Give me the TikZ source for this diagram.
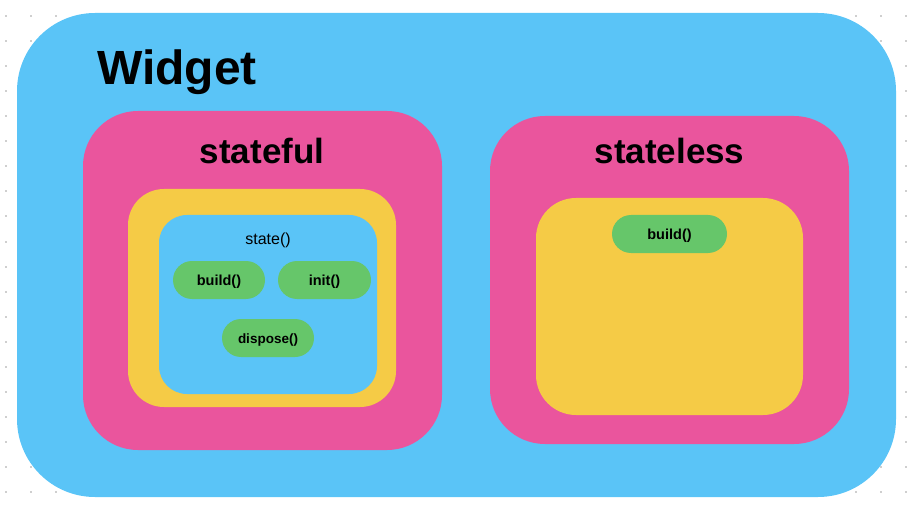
\documentclass[tikz,border=0pt]{standalone}
\usepackage{xcolor}
\usepackage{fontspec}
\setmainfont{Liberation Sans}
\usepackage{tikz}
\definecolor{wblue}{HTML}{5AC4F7}
\definecolor{wpink}{HTML}{EA559D}
\definecolor{wyellow}{HTML}{F5CB46}
\definecolor{wgreen}{HTML}{66C66A}
\definecolor{wdot}{HTML}{CFCFCF}

\begin{document}
\begin{tikzpicture}[x=1pt, y=-1pt,
  panel/.style={fill=#1, inner sep=0pt, outer sep=0pt},
  pill/.style={fill=wgreen, rounded corners=19pt, inner sep=0pt, minimum height=38pt,
    text height=12.5pt, text depth=1pt,
    font=\fontsize{14.5}{16}\selectfont\bfseries},
  heading/.style={anchor=base, inner sep=0pt, font=\fontsize{35}{40}\selectfont\bfseries}]
\useasboundingbox (0,0) rectangle (910,505);
\foreach \x in {6,31,...,906}
  \foreach \y in {16.5,41.5,...,492}
    \fill [wdot] (\x-1,\y-1) rectangle (\x+1,\y+1);
\node (widget) [panel=wblue, rounded corners=78pt, minimum width=879pt, minimum height=484pt] at (456.5,255) {};
\node (widgetlabel) [anchor=base west, inner sep=0pt, font=\fontsize{48}{52}\selectfont\bfseries] at (97,85) {Widget};
% stateful
\node (stateful) [panel=wpink, rounded corners=55pt, minimum width=359pt, minimum height=339pt] at (262.5,280.5) {};
\node (statefullabel) [heading] at (262,164) {stateful};
\node (statefulbox) [panel=wyellow, rounded corners=36pt, minimum width=268pt, minimum height=218pt] at (262,298) {};
\node (statebox) [panel=wblue, rounded corners=28pt, minimum width=218pt, minimum height=179pt] at (268,304.5) {};
\node (statelabel) [anchor=base, inner sep=0pt, font=\fontsize{16}{18}\selectfont] at (268,244) {state()};
\node (build) [pill, minimum width=92pt] at (219,280) {build()};
\node (init) [pill, minimum width=93pt] at (324.5,280) {init()};
\node (dispose) [pill, minimum width=92pt, font=\fontsize{13.5}{15}\selectfont\bfseries] at (268,338) {dispose()};
% stateless
\node (stateless) [panel=wpink, rounded corners=55pt, minimum width=359pt, minimum height=328pt] at (669.5,280) {};
\node (statelesslabel) [heading] at (669.5,164) {stateless};
\node (statelessbox) [panel=wyellow, rounded corners=40pt, minimum width=267pt, minimum height=217pt] at (669.5,306.5) {};
\node (statelessbuild) [pill, minimum width=115pt] at (669.5,234) {build()};
\end{tikzpicture}
\end{document}
